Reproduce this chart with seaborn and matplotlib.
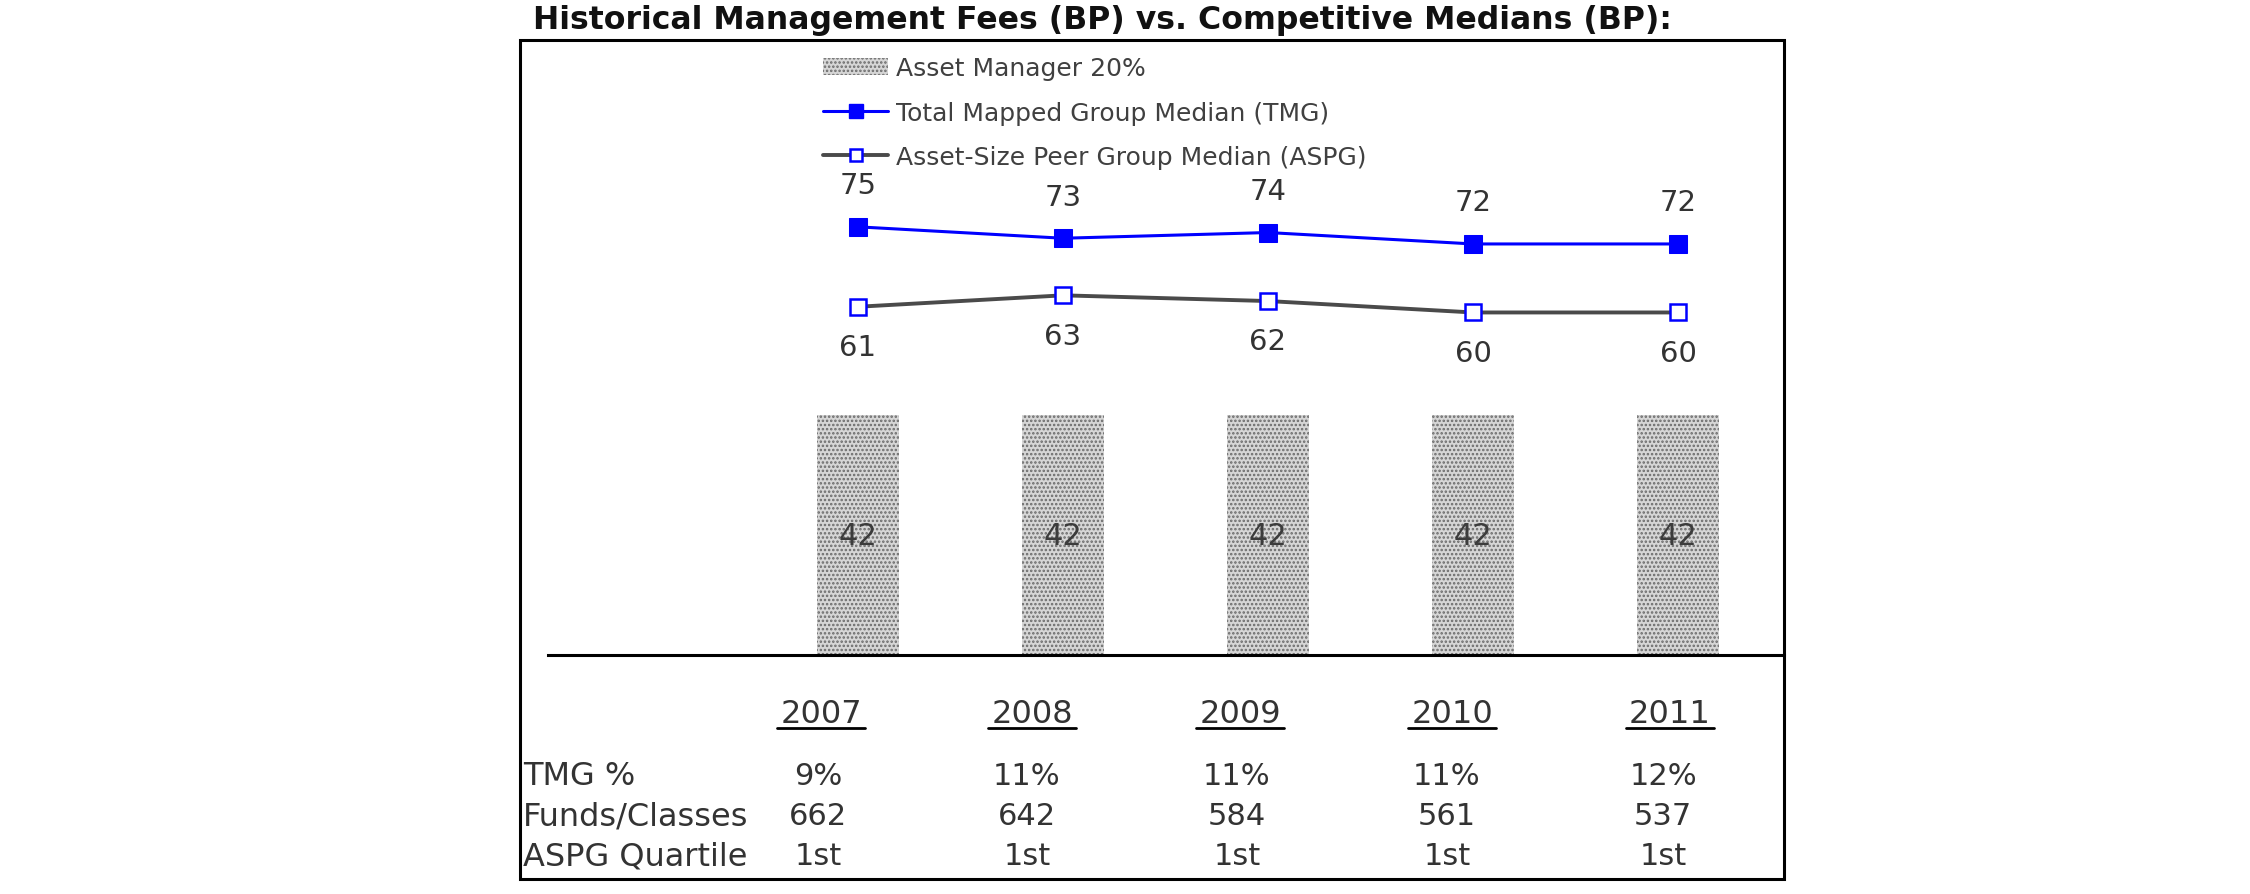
import numpy as np
import pandas as pd
import matplotlib
matplotlib.use("Agg")
import matplotlib.pyplot as plt
import seaborn as sns
from matplotlib.patches import Patch, Rectangle
from matplotlib.lines import Line2D

# ---------------- data ----------------
years = ["2007", "2008", "2009", "2010", "2011"]
asset_manager = [42, 42, 42, 42, 42]
tmg_median = [75, 73, 74, 72, 72]
aspg_median = [61, 63, 62, 60, 60]
tmg_pct = ["9%", "11%", "11%", "11%", "12%"]
funds_classes = ["662", "642", "584", "561", "537"]
aspg_quartile = ["1st", "1st", "1st", "1st", "1st"]
row_labels = ["TMG %", "Funds/Classes", "ASPG Quartile"]
series_labels = ["Asset Manager 20%",
                 "Total Mapped Group Median (TMG)",
                 "Asset-Size Peer Group Median (ASPG)"]
title = "Historical Management Fees (BP) vs. Competitive Medians (BP):"

# ---------------- style ----------------
sns.set_theme(style="white")
plt.rcParams['font.family'] = ['DejaVu Sans']
plt.rcParams['hatch.linewidth'] = 1.2

W, H = 2250, 895
fig = plt.figure(figsize=(W / 100, H / 100), dpi=100)
fig.patch.set_facecolor("white")


def fx(px):
    return px / W


def fy(py):
    return 1 - py / H


BLUE = "#0000ff"
GRAY_LINE = "#4a4a4a"
TEXT = "#333333"
BAR_FACE = "#d6d6d6"
BAR_HATCH = "#6a6a6a"
BAR_HATCH_PATTERN = "...."

ax = fig.add_axes([fx(548), fy(656), fx(1784) - fx(548), fy(40) - fy(656)])
ax.set_facecolor("none")

df = pd.DataFrame({"year": years, "am": asset_manager,
                   "tmg": tmg_median, "aspg": aspg_median})

sns.barplot(data=df, x="year", y="am", ax=ax, color=BAR_FACE, saturation=1,
            width=0.4, edgecolor=BAR_HATCH, linewidth=0,
            hatch=BAR_HATCH_PATTERN)

idx = np.arange(len(years))
sns.lineplot(x=idx, y=df["tmg"].to_numpy(), ax=ax, color=BLUE, lw=2.2,
             marker="s", markersize=13, markerfacecolor=BLUE,
             markeredgecolor=BLUE)
sns.lineplot(x=idx, y=df["aspg"].to_numpy(), ax=ax, color=GRAY_LINE, lw=2.8,
             marker="s", markersize=11.5, markerfacecolor="white",
             markeredgecolor=BLUE, markeredgewidth=1.8)

ax.set_xlim(-1.512, 4.517)
ax.set_ylim(0, 107.9)
ax.set_xticks([])
ax.set_yticks([])
ax.set_xlabel("")
ax.set_ylabel("")
for s in ["top", "right", "left"]:
    ax.spines[s].set_visible(False)
ax.spines["bottom"].set_color("black")
ax.spines["bottom"].set_linewidth(2.2)

# data labels
for i, v in enumerate(tmg_median):
    ax.annotate(str(v), (i, v), xytext=(0, 30), textcoords="offset points",
                ha="center", va="center", fontsize=21, color=TEXT)
for i, v in enumerate(aspg_median):
    ax.annotate(str(v), (i, v), xytext=(0, -29), textcoords="offset points",
                ha="center", va="center", fontsize=21, color=TEXT)
ax.bar_label(ax.containers[0], labels=[str(v) for v in asset_manager],
             label_type="center", fontsize=22, color="#3c3c3c")

# outer frame
fig.add_artist(Rectangle((fx(520), fy(880)), fx(1784) - fx(520),
                         fy(41) - fy(880), transform=fig.transFigure,
                         fill=False, lw=2.2, edgecolor="black"))

# title
fig.text(fx(533), fy(29), title, fontsize=22.7, fontweight="bold",
         ha="left", va="baseline", color="#111111")

# legend
handles = [
    Patch(facecolor=BAR_FACE, edgecolor=BAR_HATCH, hatch=BAR_HATCH_PATTERN,
          lw=0),
    Line2D([], [], color=BLUE, lw=2.2, marker="s", markersize=10,
           markerfacecolor=BLUE, markeredgecolor=BLUE),
    Line2D([], [], color=GRAY_LINE, lw=2.8, marker="s", markersize=9,
           markerfacecolor="white", markeredgecolor=BLUE, markeredgewidth=1.8),
]
fig.legend(handles, series_labels, loc="upper left",
           bbox_to_anchor=(fx(823), fy(57)), frameon=False, fontsize=18,
           handlelength=2.6, handletextpad=0.3, labelspacing=0.82,
           borderpad=0, borderaxespad=0, labelcolor="#404040")

# table below the chart
year_x = [821, 1032, 1240, 1452, 1670]
value_x = [818, 1027, 1237, 1447, 1663]
year_y = 715
row_y = [777, 817, 857]
year_texts = []
for cx, yr in zip(year_x, years):
    t = fig.text(fx(cx), fy(year_y), yr, ha="center", va="center",
                 fontsize=23, color=TEXT)
    year_texts.append(t)
for ry, lab in zip(row_y, row_labels):
    fig.text(fx(523), fy(ry), lab, ha="left", va="center", fontsize=23,
             color=TEXT)
for ry, row in zip(row_y, [tmg_pct, funds_classes, aspg_quartile]):
    for cx, val in zip(value_x, row):
        fig.text(fx(cx), fy(ry), val, ha="center", va="center", fontsize=22,
                 color=TEXT)

# underline the years
fig.canvas.draw()
renderer = fig.canvas.get_renderer()
for t in year_texts:
    bb = t.get_window_extent(renderer)
    fig.add_artist(Line2D([(bb.x0 - 3) / W, (bb.x1 + 3) / W],
                          [fy(729), fy(729)], transform=fig.transFigure,
                          color="black", lw=2.0))

fig.savefig("out.png", dpi=100, facecolor="white")
